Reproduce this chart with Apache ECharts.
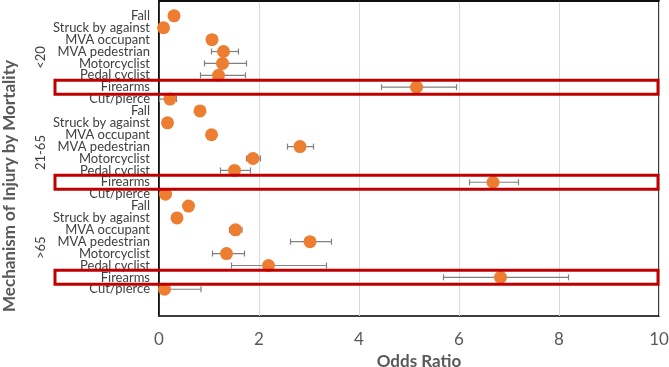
<!DOCTYPE html>
<html>
<head>
<meta charset="utf-8">
<script src="https://cdn.jsdelivr.net/npm/echarts@6/dist/echarts.min.js"></script>
<style>
  html, body { margin: 0; padding: 0; background: #fff; }
  #chart { width: 669px; height: 367px; }
</style>
</head>
<body>
<div id="chart"></div>
<script>
  const ageGroups = ['<20', '21-65', '>65'];
  const mechanisms = ['Fall', 'Struck by against', 'MVA occupant', 'MVA pedestrian',
    'Motorcyclist', 'Pedal cyclist', 'Firearms', 'Cut/pierce'];
  const xTicks = [0, 2, 4, 6, 8, 10];

  // odds ratio with lower / upper confidence limits, one array per age group
  const orUnder20 = [0.30, 0.09, 1.06, 1.29, 1.27, 1.19, 5.15, 0.22];
  const loUnder20 = [0.25, 0.05, 1.00, 1.05, 0.91, 0.83, 4.45, 0.01];
  const hiUnder20 = [0.35, 0.13, 1.12, 1.59, 1.75, 1.73, 5.95, 0.35];

  const or21to65 = [0.82, 0.17, 1.05, 2.82, 1.88, 1.51, 6.68, 0.13];
  const lo21to65 = [0.76, 0.12, 0.99, 2.57, 1.75, 1.23, 6.21, 0.05];
  const hi21to65 = [0.88, 0.22, 1.11, 3.09, 2.03, 1.83, 7.19, 0.22];

  const orOver65 = [0.59, 0.36, 1.53, 3.02, 1.35, 2.19, 6.83, 0.11];
  const loOver65 = [0.50, 0.28, 1.41, 2.63, 1.07, 1.45, 5.69, 0.01];
  const hiOver65 = [0.68, 0.44, 1.66, 3.45, 1.71, 3.35, 8.19, 0.84];

  const highlight = 'Firearms';

  const orAll = [orUnder20, or21to65, orOver65];
  const loAll = [loUnder20, lo21to65, loOver65];
  const hiAll = [hiUnder20, hi21to65, hiOver65];

  // each row sits on its own slot of a value axis (leaves room above/below like the original)
  const rowOffset = 1.25;
  const yMax = 26.5;
  const rowNames = [];
  const rowPos = [];
  const points = [];
  const bars = [];
  ageGroups.forEach(function (g, gi) {
    mechanisms.forEach(function (m, mi) {
      const idx = gi * mechanisms.length + mi;
      const y = idx + rowOffset;
      rowNames.push(m);
      rowPos.push(y);
      points.push([orAll[gi][mi], y]);
      bars.push([loAll[gi][mi], hiAll[gi][mi], y]);
    });
  });

  const font = 'Lato, "Liberation Sans", sans-serif';
  const chart = echarts.init(document.getElementById('chart'));

  chart.setOption({
    animation: false,
    grid: {
      left: 159, right: 10, top: 1, bottom: 51,
      outerBoundsMode: 'none',
      containLabel: false,
      show: true, borderColor: '#000', borderWidth: 1.5
    },
    xAxis: {
      type: 'value',
      min: 0, max: 10, interval: 2,
      name: 'Odds Ratio',
      nameLocation: 'middle',
      nameGap: 35,
      nameTextStyle: { fontFamily: font, fontSize: 17, fontWeight: 'bold', color: '#595959', padding: [0, 0, 0, 20] },
      axisLine: { show: true, lineStyle: { color: '#000', width: 1.5 } },
      axisTick: { show: false },
      axisLabel: {
        customValues: xTicks,
        fontFamily: font, fontSize: 17, color: '#595959', margin: 15
      },
      splitLine: { show: true, lineStyle: { color: '#d9d9d9', width: 1 } }
    },
    yAxis: {
      type: 'value',
      inverse: true,
      min: 0, max: yMax,
      axisLine: { show: true, lineStyle: { color: '#000', width: 1.5 } },
      axisTick: { show: false },
      splitLine: { show: false },
      axisLabel: {
        // blank labels at both ends so no row label counts as the min/max one
        customValues: [0].concat(rowPos, [yMax]),
        showMinLabel: true,
        showMaxLabel: true,
        hideOverlap: false,
        fontFamily: font, fontSize: 13, color: '#404040', margin: 9,
        formatter: function (v) {
          const i = Math.round(v - rowOffset);
          if (Math.abs(v - (i + rowOffset)) > 0.01) return '';
          return rowNames[i] || '';
        }
      }
    },
    series: [
      {
        type: 'custom',
        z: 2,
        data: bars,
        encode: { x: [0, 1], y: 2 },
        renderItem: function (params, api) {
          const a = api.coord([api.value(0), api.value(2)]);
          const b = api.coord([api.value(1), api.value(2)]);
          const cap = 3;
          const style = { stroke: '#808080', lineWidth: 1.2 };
          return {
            type: 'group',
            children: [
              { type: 'line', shape: { x1: a[0], y1: a[1], x2: b[0], y2: b[1] }, style: style },
              { type: 'line', shape: { x1: a[0], y1: a[1] - cap, x2: a[0], y2: a[1] + cap }, style: style },
              { type: 'line', shape: { x1: b[0], y1: b[1] - cap, x2: b[0], y2: b[1] + cap }, style: style }
            ]
          };
        }
      },
      {
        type: 'scatter',
        z: 3,
        data: points,
        symbol: 'circle',
        symbolSize: 13,
        itemStyle: { color: '#ED7D31', opacity: 1 }
      }
    ]
  });

  // annotations placed through the axis scale
  const graphics = [];
  ageGroups.forEach(function (g, gi) {
    const mid = gi * mechanisms.length + (mechanisms.length - 1) / 2 + rowOffset;
    const py = chart.convertToPixel({ yAxisIndex: 0 }, mid);
    graphics.push({
      type: 'text', x: 41, y: py, rotation: Math.PI / 2,
      style: { text: g, font: '13px ' + font, fill: '#404040', align: 'center', verticalAlign: 'middle' }
    });
    const hy = chart.convertToPixel({ yAxisIndex: 0 }, gi * mechanisms.length + mechanisms.indexOf(highlight) + rowOffset);
    graphics.push({
      type: 'rect', z: 100,
      shape: { x: 55, y: hy - 7, width: 603, height: 14 },
      style: { fill: 'none', stroke: '#C00000', lineWidth: 3 }
    });
  });
  graphics.push({
    type: 'text', x: 10, y: 186, rotation: Math.PI / 2,
    style: { text: 'Mechanism of Injury by Mortality', font: 'bold 17px ' + font, fill: '#595959', align: 'center', verticalAlign: 'middle' }
  });
  chart.setOption({ graphic: graphics });
</script>
</body>
</html>
